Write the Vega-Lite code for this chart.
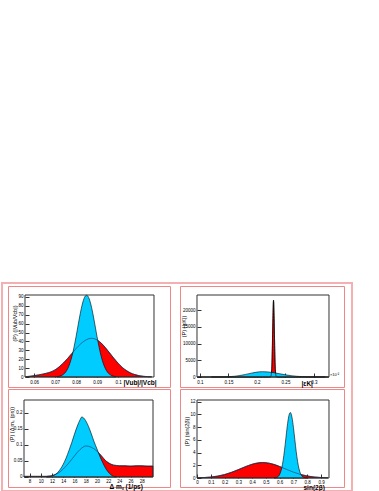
{
  "$schema": "https://vega.github.io/schema/vega-lite/v6.json",
  "padding": {"left": 0, "top": 281, "right": 0, "bottom": 0},
  "background": "white",
  "bounds": "flush",
  "columns": 2,
  "spacing": {"row": 2, "column": 10},
  "datasets": {
    "tl_red": [
      {"x": 0.056, "p": 0.4}, {"x": 0.058, "p": 0.8}, {"x": 0.060, "p": 1.5}, {"x": 0.062, "p": 2.3},
      {"x": 0.064, "p": 3.2}, {"x": 0.066, "p": 4.3}, {"x": 0.068, "p": 5.7}, {"x": 0.070, "p": 8.0},
      {"x": 0.072, "p": 11.5}, {"x": 0.074, "p": 15.8}, {"x": 0.076, "p": 20.9}, {"x": 0.078, "p": 26.4},
      {"x": 0.080, "p": 31.9}, {"x": 0.082, "p": 36.8}, {"x": 0.084, "p": 40.6}, {"x": 0.086, "p": 43.0},
      {"x": 0.0875, "p": 43.5}, {"x": 0.089, "p": 42.8}, {"x": 0.090, "p": 41.7}, {"x": 0.092, "p": 38.1},
      {"x": 0.094, "p": 32.9}, {"x": 0.096, "p": 27.0}, {"x": 0.098, "p": 21.0}, {"x": 0.100, "p": 15.5},
      {"x": 0.102, "p": 10.8}, {"x": 0.104, "p": 7.2}, {"x": 0.106, "p": 4.5}, {"x": 0.108, "p": 2.7},
      {"x": 0.110, "p": 1.5}, {"x": 0.112, "p": 0.8}, {"x": 0.114, "p": 0.4}, {"x": 0.116, "p": 0.2}
    ],
    "tl_blue": [
      {"x": 0.071, "p": 0.35}, {"x": 0.072, "p": 0.76}, {"x": 0.073, "p": 1.55}, {"x": 0.074, "p": 2.98},
      {"x": 0.075, "p": 5.41}, {"x": 0.076, "p": 9.27}, {"x": 0.077, "p": 15.0}, {"x": 0.078, "p": 22.9},
      {"x": 0.079, "p": 33.2}, {"x": 0.080, "p": 45.3}, {"x": 0.081, "p": 58.5}, {"x": 0.082, "p": 71.3},
      {"x": 0.083, "p": 82.1}, {"x": 0.084, "p": 89.4}, {"x": 0.085, "p": 92.0}, {"x": 0.086, "p": 89.4},
      {"x": 0.087, "p": 82.1}, {"x": 0.088, "p": 71.3}, {"x": 0.089, "p": 58.5}, {"x": 0.090, "p": 45.3},
      {"x": 0.091, "p": 33.2}, {"x": 0.092, "p": 22.9}, {"x": 0.093, "p": 15.0}, {"x": 0.094, "p": 9.27},
      {"x": 0.095, "p": 5.41}, {"x": 0.096, "p": 2.98}, {"x": 0.097, "p": 1.55}, {"x": 0.098, "p": 0.76},
      {"x": 0.099, "p": 0.35}
    ],
    "tr_red": [
      {"x": 0.095, "p": 0}, {"x": 0.222, "p": 0}, {"x": 0.223, "p": 8}, {"x": 0.224, "p": 89},
      {"x": 0.225, "p": 657}, {"x": 0.226, "p": 3110}, {"x": 0.227, "p": 9460}, {"x": 0.228, "p": 18400},
      {"x": 0.229, "p": 23000}, {"x": 0.230, "p": 18400}, {"x": 0.231, "p": 9460}, {"x": 0.232, "p": 3110},
      {"x": 0.233, "p": 657}, {"x": 0.234, "p": 89}, {"x": 0.235, "p": 8}, {"x": 0.236, "p": 0},
      {"x": 0.326, "p": 0}
    ],
    "tr_blue": [
      {"x": 0.12, "p": 0}, {"x": 0.13, "p": 9}, {"x": 0.14, "p": 30}, {"x": 0.15, "p": 89},
      {"x": 0.16, "p": 215}, {"x": 0.17, "p": 442}, {"x": 0.18, "p": 774}, {"x": 0.19, "p": 1155},
      {"x": 0.20, "p": 1468}, {"x": 0.21, "p": 1590}, {"x": 0.22, "p": 1504}, {"x": 0.23, "p": 1273},
      {"x": 0.24, "p": 964}, {"x": 0.25, "p": 654}, {"x": 0.26, "p": 397}, {"x": 0.27, "p": 215},
      {"x": 0.28, "p": 104}, {"x": 0.29, "p": 45}, {"x": 0.30, "p": 18}, {"x": 0.31, "p": 6},
      {"x": 0.32, "p": 0}
    ],
    "bl_red": [
      {"x": 7, "p": 0.002}, {"x": 8, "p": 0.002}, {"x": 9, "p": 0.002}, {"x": 10, "p": 0.002},
      {"x": 11, "p": 0.002}, {"x": 11.5, "p": 0.003}, {"x": 12, "p": 0.004}, {"x": 12.5, "p": 0.007},
      {"x": 13, "p": 0.011}, {"x": 13.5, "p": 0.017}, {"x": 14, "p": 0.025}, {"x": 14.5, "p": 0.034},
      {"x": 15, "p": 0.044}, {"x": 15.5, "p": 0.055}, {"x": 16, "p": 0.066}, {"x": 16.5, "p": 0.077},
      {"x": 17, "p": 0.086}, {"x": 17.5, "p": 0.093}, {"x": 18, "p": 0.097}, {"x": 18.5, "p": 0.096},
      {"x": 19, "p": 0.093}, {"x": 19.5, "p": 0.088}, {"x": 20, "p": 0.081}, {"x": 20.5, "p": 0.072},
      {"x": 21, "p": 0.062}, {"x": 21.5, "p": 0.052}, {"x": 22, "p": 0.045}, {"x": 22.5, "p": 0.040},
      {"x": 23, "p": 0.037}, {"x": 23.5, "p": 0.036}, {"x": 24, "p": 0.035}, {"x": 25, "p": 0.035},
      {"x": 26, "p": 0.034}, {"x": 27, "p": 0.035}, {"x": 28, "p": 0.035}, {"x": 29, "p": 0.034},
      {"x": 30, "p": 0.034}
    ],
    "bl_blue": [
      {"x": 11, "p": 0}, {"x": 11.5, "p": 0.001}, {"x": 12, "p": 0.003}, {"x": 12.5, "p": 0.007},
      {"x": 13, "p": 0.014}, {"x": 13.5, "p": 0.025}, {"x": 14, "p": 0.040}, {"x": 14.5, "p": 0.059},
      {"x": 15, "p": 0.082}, {"x": 15.5, "p": 0.107}, {"x": 16, "p": 0.134}, {"x": 16.5, "p": 0.159},
      {"x": 17, "p": 0.179}, {"x": 17.3, "p": 0.1875}, {"x": 17.6, "p": 0.185}, {"x": 18, "p": 0.176},
      {"x": 18.5, "p": 0.158}, {"x": 19, "p": 0.135}, {"x": 19.5, "p": 0.110}, {"x": 20, "p": 0.088},
      {"x": 20.5, "p": 0.066}, {"x": 21, "p": 0.046}, {"x": 21.5, "p": 0.029}, {"x": 22, "p": 0.016},
      {"x": 22.5, "p": 0.007}, {"x": 23, "p": 0.002}, {"x": 23.5, "p": 0}
    ],
    "br_red": [
      {"x": 0.0, "p": 0.029}, {"x": 0.05, "p": 0.069}, {"x": 0.10, "p": 0.151}, {"x": 0.15, "p": 0.301},
      {"x": 0.20, "p": 0.543}, {"x": 0.25, "p": 0.888}, {"x": 0.30, "p": 1.318}, {"x": 0.35, "p": 1.773},
      {"x": 0.40, "p": 2.164}, {"x": 0.45, "p": 2.396}, {"x": 0.477, "p": 2.43}, {"x": 0.50, "p": 2.405},
      {"x": 0.55, "p": 2.19}, {"x": 0.60, "p": 1.808}, {"x": 0.65, "p": 1.354}, {"x": 0.70, "p": 0.92},
      {"x": 0.75, "p": 0.567}, {"x": 0.80, "p": 0.317}, {"x": 0.85, "p": 0.16}, {"x": 0.90, "p": 0.074},
      {"x": 0.95, "p": 0.031}
    ],
    "br_blue": [
      {"x": 0.56, "p": 0}, {"x": 0.57, "p": 0.038}, {"x": 0.58, "p": 0.104}, {"x": 0.59, "p": 0.256},
      {"x": 0.60, "p": 0.57}, {"x": 0.61, "p": 1.151}, {"x": 0.62, "p": 2.108}, {"x": 0.63, "p": 3.503},
      {"x": 0.64, "p": 5.279}, {"x": 0.65, "p": 7.215}, {"x": 0.66, "p": 8.945}, {"x": 0.67, "p": 10.06},
      {"x": 0.677, "p": 10.3}, {"x": 0.68, "p": 10.25}, {"x": 0.69, "p": 9.48}, {"x": 0.70, "p": 7.956},
      {"x": 0.71, "p": 6.05}, {"x": 0.72, "p": 4.176}, {"x": 0.73, "p": 2.613}, {"x": 0.74, "p": 1.483},
      {"x": 0.75, "p": 0.763}, {"x": 0.76, "p": 0.356}, {"x": 0.77, "p": 0.151}, {"x": 0.78, "p": 0.058},
      {"x": 0.79, "p": 0.02}, {"x": 0.80, "p": 0}
    ]
  },
  "concat": [
    {
      "width": 162,
      "height": 101,
      "layer": [
        {
          "encoding": {
            "x": {"field": "x", "type": "quantitative", "scale": {"domain": [0.04761, 0.12472], "nice": false, "zero": false},
              "axis": {"orient": "bottom", "offset": -10, "values": [0.06, 0.07, 0.08, 0.09, 0.1], "format": "~g", "labelOverlap": false,
                "title": "|Vub|/|Vcb|", "titleX": 115, "titleY": 2, "titleAlign": "left", "titleBaseline": "top"}},
            "y": {"field": "p", "type": "quantitative", "scale": {"domain": [-11.24, 102.32], "nice": false, "zero": false},
              "axis": {"orient": "left", "offset": -17, "values": [0, 10, 20, 30, 40, 50, 60, 70, 80, 90], "format": "d", "labelOverlap": false,
                "title": "(P) (|Vub/Vcb|)", "titleX": -11, "titleY": 37, "titleAngle": 270, "titleAlign": "center", "titleBaseline": "middle"}}
          },
          "layer": [
            {"data": {"name": "tl_red"}, "mark": {"type": "area", "fill": "#ff0000", "stroke": "#000000", "strokeWidth": 0.6, "interpolate": "monotone"}, "encoding": {"y2": {"datum": 0}}},
            {"data": {"name": "tl_blue"}, "mark": {"type": "area", "fill": "#00ccff", "stroke": "#000000", "strokeWidth": 0.6, "interpolate": "monotone"}, "encoding": {"y2": {"datum": 0}}},
            {"data": {"name": "tl_red"}, "mark": {"type": "line", "stroke": "#203060", "strokeWidth": 0.6, "interpolate": "monotone"}}
          ]
        },
        {
          "data": {"values": [{}]},
          "mark": {"type": "rect", "filled": false, "color": "#333333", "strokeWidth": 1},
          "encoding": {
            "x": {"datum": 0.0557, "type": "quantitative", "axis": {"orient": "bottom", "offset": -10, "values": [0.06, 0.07, 0.08, 0.09, 0.1], "format": "~g", "labelOverlap": false,
              "title": "|Vub|/|Vcb|", "titleX": 115, "titleY": 2, "titleAlign": "left", "titleBaseline": "top"}},
            "x2": {"datum": 0.1171},
            "y": {"datum": 0, "type": "quantitative", "axis": {"orient": "left", "offset": -17, "values": [0, 10, 20, 30, 40, 50, 60, 70, 80, 90], "format": "d", "labelOverlap": false,
              "title": "(P) (|Vub/Vcb|)", "titleX": -11, "titleY": 37, "titleAngle": 270, "titleAlign": "center", "titleBaseline": "middle"}},
            "y2": {"datum": 92.2}
          }
        },
        {
          "data": {"values": [{}]},
          "mark": {"type": "rect", "filled": false, "color": "#f4b0b0", "strokeWidth": 2},
          "encoding": {
            "x": {"datum": 0.044754, "type": "quantitative", "axis": {"orient": "bottom", "offset": -10, "values": [0.06, 0.07, 0.08, 0.09, 0.1], "format": "~g", "labelOverlap": false,
              "title": "|Vub|/|Vcb|", "titleX": 115, "titleY": 2, "titleAlign": "left", "titleBaseline": "top"}},
            "x2": {"datum": 0.211349},
            "y": {"datum": 105.69, "type": "quantitative", "axis": {"orient": "left", "offset": -17, "values": [0, 10, 20, 30, 40, 50, 60, 70, 80, 90], "format": "d", "labelOverlap": false,
              "title": "(P) (|Vub/Vcb|)", "titleX": -11, "titleY": 37, "titleAngle": 270, "titleAlign": "center", "titleBaseline": "middle"}},
            "y2": {"datum": -128.17}
          }
        }
      ]
    },
    {
      "width": 164,
      "height": 101,
      "layer": [
        {
          "encoding": {
            "x": {"field": "x", "type": "quantitative", "scale": {"domain": [0.06492, 0.35264], "nice": false, "zero": false},
              "axis": {"orient": "bottom", "offset": -10, "values": [0.1, 0.15, 0.2, 0.25, 0.3], "format": "~g", "labelOverlap": false,
                "title": "|εK|", "titleX": 121, "titleY": 3, "titleAlign": "left", "titleBaseline": "top"}},
            "y": {"field": "p", "type": "quantitative", "scale": {"domain": [-2994, 27246], "nice": false, "zero": false},
              "axis": {"orient": "left", "offset": -17, "values": [0, 5000, 10000, 15000, 20000], "format": "d", "labelOverlap": false,
                "title": "(P) (|εK|)", "titleX": -14, "titleY": 40, "titleAngle": 270, "titleAlign": "center", "titleBaseline": "middle"}}
          },
          "layer": [
            {"data": {"name": "tr_red"}, "mark": {"type": "area", "fill": "#ff0000", "stroke": "#000000", "strokeWidth": 0.6, "interpolate": "monotone"}, "encoding": {"y2": {"datum": 0}}},
            {"data": {"name": "tr_blue"}, "mark": {"type": "area", "fill": "#00ccff", "stroke": "#000000", "strokeWidth": 0.6, "interpolate": "monotone"}, "encoding": {"y2": {"datum": 0}}},
            {"data": {"name": "tr_red"}, "mark": {"type": "line", "stroke": "#000000", "strokeWidth": 0.6, "interpolate": "monotone"}}
          ]
        },
        {
          "data": {"values": [{}]},
          "mark": {"type": "rect", "filled": false, "color": "#333333", "strokeWidth": 1},
          "encoding": {
            "x": {"datum": 0.09474, "type": "quantitative", "axis": {"orient": "bottom", "offset": -10, "values": [0.1, 0.15, 0.2, 0.25, 0.3], "format": "~g", "labelOverlap": false,
              "title": "|εK|", "titleX": 121, "titleY": 3, "titleAlign": "left", "titleBaseline": "top"}},
            "x2": {"datum": 0.32632},
            "y": {"datum": 0, "type": "quantitative", "axis": {"orient": "left", "offset": -17, "values": [0, 5000, 10000, 15000, 20000], "format": "d", "labelOverlap": false,
              "title": "(P) (|εK|)", "titleX": -14, "titleY": 40, "titleAngle": 270, "titleAlign": "center", "titleBaseline": "middle"}},
            "y2": {"datum": 24551}
          }
        },
        {
          "data": {"values": [{}]},
          "mark": {"type": "text", "text": "×10⁻²", "fontSize": 4, "align": "left", "baseline": "bottom", "dx": 1, "dy": -0.5, "color": "#000000"},
          "encoding": {
            "x": {"datum": 0.32632, "type": "quantitative", "axis": {"orient": "bottom", "offset": -10, "values": [0.1, 0.15, 0.2, 0.25, 0.3], "format": "~g", "labelOverlap": false,
              "title": "|εK|", "titleX": 121, "titleY": 3, "titleAlign": "left", "titleBaseline": "top"}},
            "y": {"datum": 0, "type": "quantitative", "axis": {"orient": "left", "offset": -17, "values": [0, 5000, 10000, 15000, 20000], "format": "d", "labelOverlap": false,
              "title": "(P) (|εK|)", "titleX": -14, "titleY": 40, "titleAngle": 270, "titleAlign": "center", "titleBaseline": "middle"}}
          }
        }
      ]
    },
    {
      "width": 162,
      "height": 98,
      "layer": [
        {
          "encoding": {
            "x": {"field": "x", "type": "quantitative", "scale": {"domain": [4.147, 33.031], "nice": false, "zero": false},
              "axis": {"orient": "bottom", "offset": -10, "values": [8, 10, 12, 14, 16, 18, 20, 22, 24, 26, 28], "format": "d", "labelOverlap": false,
                "labelPadding": 5, "title": "Δ mₛ (1/ps)", "titleX": 101, "titleY": 6, "titleAlign": "left", "titleBaseline": "top"}},
            "y": {"field": "p", "type": "quantitative", "scale": {"domain": [-0.03125, 0.27498], "nice": false, "zero": false},
              "axis": {"orient": "left", "offset": -16, "values": [0, 0.05, 0.1, 0.15, 0.2], "format": "~g", "labelOverlap": false,
                "title": "(P) (Δ mₛ (ps))", "titleX": -13, "titleY": 35, "titleAngle": 270, "titleAlign": "center", "titleBaseline": "middle"}}
          },
          "layer": [
            {"data": {"name": "bl_red"}, "mark": {"type": "area", "fill": "#ff0000", "stroke": "#000000", "strokeWidth": 0.6, "interpolate": "monotone"}, "encoding": {"y2": {"datum": 0}}},
            {"data": {"name": "bl_blue"}, "mark": {"type": "area", "fill": "#00ccff", "stroke": "#000000", "strokeWidth": 0.6, "interpolate": "monotone"}, "encoding": {"y2": {"datum": 0}}},
            {"data": {"name": "bl_red"}, "mark": {"type": "line", "stroke": "#203060", "strokeWidth": 0.6, "interpolate": "monotone"}}
          ]
        },
        {
          "data": {"values": [{}]},
          "mark": {"type": "rect", "filled": false, "color": "#333333", "strokeWidth": 1},
          "encoding": {
            "x": {"datum": 7, "type": "quantitative", "axis": {"orient": "bottom", "offset": -10, "values": [8, 10, 12, 14, 16, 18, 20, 22, 24, 26, 28], "format": "d", "labelOverlap": false,
              "labelPadding": 5, "title": "Δ mₛ (1/ps)", "titleX": 101, "titleY": 6, "titleAlign": "left", "titleBaseline": "top"}},
            "x2": {"datum": 30},
            "y": {"datum": 0, "type": "quantitative", "axis": {"orient": "left", "offset": -16, "values": [0, 0.05, 0.1, 0.15, 0.2], "format": "~g", "labelOverlap": false,
              "title": "(P) (Δ mₛ (ps))", "titleX": -13, "titleY": 35, "titleAngle": 270, "titleAlign": "center", "titleBaseline": "middle"}},
            "y2": {"datum": 0.2406}
          }
        }
      ]
    },
    {
      "width": 164,
      "height": 98,
      "layer": [
        {
          "encoding": {
            "x": {"field": "x", "type": "quantitative", "scale": {"domain": [-0.1234, 1.0669], "nice": false, "zero": false},
              "axis": {"orient": "bottom", "offset": -9, "values": [0, 0.1, 0.2, 0.3, 0.4, 0.5, 0.6, 0.7, 0.8, 0.9], "format": "~g", "labelOverlap": false,
                "labelPadding": 5, "title": "sin(2β)", "titleX": 123, "titleY": 6, "titleAlign": "left", "titleBaseline": "top"}},
            "y": {"field": "p", "type": "quantitative", "scale": {"domain": [-1.415, 13.994], "nice": false, "zero": false},
              "axis": {"orient": "left", "offset": -17, "values": [0, 2, 4, 6, 8, 10, 12], "format": "d", "labelOverlap": false,
                "title": "(P) (sin(2β))", "titleX": -11, "titleY": 42, "titleAngle": 270, "titleAlign": "center", "titleBaseline": "middle"}}
          },
          "layer": [
            {"data": {"name": "br_red"}, "mark": {"type": "area", "fill": "#ff0000", "stroke": "#000000", "strokeWidth": 0.6, "interpolate": "monotone"}, "encoding": {"y2": {"datum": 0}}},
            {"data": {"name": "br_blue"}, "mark": {"type": "area", "fill": "#00ccff", "stroke": "#000000", "strokeWidth": 0.6, "interpolate": "monotone"}, "encoding": {"y2": {"datum": 0}}},
            {"data": {"name": "br_red"}, "mark": {"type": "line", "stroke": "#203060", "strokeWidth": 0.6, "interpolate": "monotone"}}
          ]
        },
        {
          "data": {"values": [{}]},
          "mark": {"type": "rect", "filled": false, "color": "#333333", "strokeWidth": 1},
          "encoding": {
            "x": {"datum": 0, "type": "quantitative", "axis": {"orient": "bottom", "offset": -9, "values": [0, 0.1, 0.2, 0.3, 0.4, 0.5, 0.6, 0.7, 0.8, 0.9], "format": "~g", "labelOverlap": false,
              "labelPadding": 5, "title": "sin(2β)", "titleX": 123, "titleY": 6, "titleAlign": "left", "titleBaseline": "top"}},
            "x2": {"datum": 0.958},
            "y": {"datum": 0, "type": "quantitative", "axis": {"orient": "left", "offset": -17, "values": [0, 2, 4, 6, 8, 10, 12], "format": "d", "labelOverlap": false,
              "title": "(P) (sin(2β))", "titleX": -11, "titleY": 42, "titleAngle": 270, "titleAlign": "center", "titleBaseline": "middle"}},
            "y2": {"datum": 12.264}
          }
        }
      ]
    }
  ],
  "config": {
    "font": "Liberation Sans",
    "view": {"stroke": "#ee8888", "strokeWidth": 1},
    "axis": {
      "grid": false,
      "domain": false,
      "tickSize": -4,
      "tickColor": "#000000",
      "tickWidth": 0.8,
      "labelFontSize": 4.5,
      "labelColor": "#000000",
      "labelPadding": 6,
      "labelOverlap": false,
      "labelFlush": false,
      "titleFontSize": 6.5,
      "titleFontWeight": "bold",
      "titleColor": "#000000",
      "titlePadding": 0
    },
    "axisLeft": {"titleFontWeight": "normal", "titleFontSize": 5.5}
  }
}
